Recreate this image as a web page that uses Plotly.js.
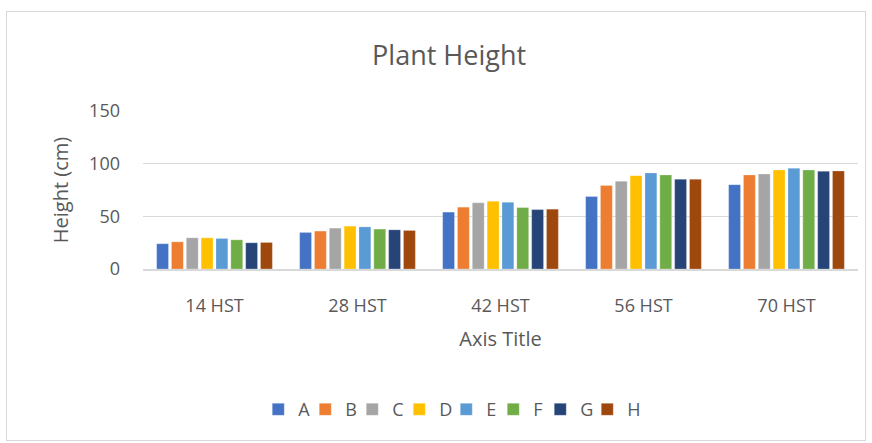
<!DOCTYPE html>
<html><head><meta charset="utf-8">
<script src="https://cdn.plot.ly/plotly-3.0.1.min.js"></script>
<style>
html,body{margin:0;padding:0;background:#fff;}
#wrap{position:relative;width:872px;height:443px;}
#frame{position:absolute;left:6px;top:11px;width:860px;height:430px;border:1px solid #d9d9d9;box-sizing:border-box;pointer-events:none;}
#chart{position:absolute;left:0;top:0;width:872px;height:443px;}
</style></head>
<body><div id="wrap"><div id="chart"></div><div id="frame"></div></div>
<script>
const categories = ["14 HST","28 HST","42 HST","56 HST","70 HST"];
const seriesNames = ["A","B","C","D","E","F","G","H"];
const seriesColors = ["#4472C4","#ED7D31","#A5A5A5","#FFC000","#5B9BD5","#70AD47","#264478","#9E480E"];
const A = [24.0, 34.7, 54.0, 68.8, 80.1];
const B = [25.8, 36.0, 58.7, 79.2, 89.3];
const C = [29.6, 38.8, 62.8, 83.3, 90.2];
const D = [29.6, 40.7, 64.4, 88.6, 94.0];
const E = [29.0, 40.0, 63.4, 91.2, 95.6];
const F = [27.7, 37.9, 58.3, 89.3, 94.0];
const G = [24.9, 37.2, 56.4, 85.2, 92.8];
const H = [25.2, 36.6, 56.8, 85.2, 93.1];
const values = [A,B,C,D,E,F,G,H];
const yTicks = [0,50,100,150];

const font = "'Open Sans', sans-serif";
const traces = seriesNames.map((n,i)=>({
  type:"bar", name:n, x:categories, y:values[i],
  marker:{color:seriesColors[i], line:{color:"rgba(255,255,255,0.5)", width:0.5}}
}));
// invisible spacer legend entry so the last label is not clipped
traces.push({type:"scatter", mode:"markers", name:" ", x:[null], y:[null],
  marker:{color:"rgba(0,0,0,0)"}, hoverinfo:"skip", showlegend:true});
const layout = {
  width:872, height:443,
  margin:{l:143, r:14, t:110.5, b:174},
  paper_bgcolor:"#fff", plot_bgcolor:"#fff",
  font:{family:font, color:"#595959", size:18},
  title:{text:"Plant Height", font:{size:27, color:"#595959", family:font}, x:0.515, xanchor:"center", y:0.875, yanchor:"middle"},
  barmode:"group", bargap:0.17, bargroupgap:0.2,
  xaxis:{type:"category", showgrid:false, zeroline:false, showline:true, linecolor:"#d9d9d9", linewidth:1.5,
    ticks:"", ticklabelstandoff:20, tickfont:{size:18, color:"#595959"},
    title:{text:"Axis Title", font:{size:20, color:"#595959"}, standoff:16}},
  yaxis:{range:[0,150], tickvals:yTicks, showgrid:true, gridcolor:"#d9d9d9", gridwidth:1.5, zeroline:false,
    showline:false, ticks:"", ticklabelstandoff:22, tickfont:{size:18, color:"#595959"},
    title:{text:"Height (cm)", font:{size:20, color:"#595959"}, standoff:15}},
  legend:{orientation:"h", x:0.457, xanchor:"center", y:-0.89, yanchor:"middle", font:{size:18, color:"#595959"},
    itemwidth:30, entrywidth:2, entrywidthmode:"pixels", traceorder:"normal"},
  showlegend:true
};
Plotly.newPlot("chart", traces, layout, {displayModeBar:false, staticPlot:true});
</script></body></html>
